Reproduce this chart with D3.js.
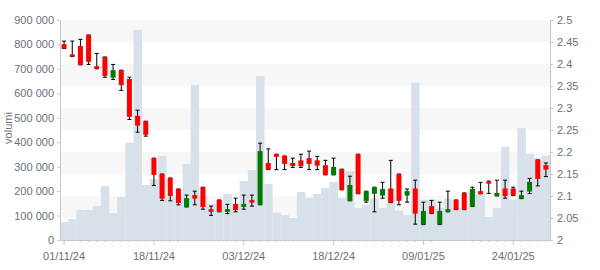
<!DOCTYPE html>
<html lang="it">
<head>
<meta charset="utf-8">
<title>Candlestick - volumi</title>
<script src="https://cdnjs.cloudflare.com/ajax/libs/d3/7.8.5/d3.min.js"></script>
<style>
	body { margin: 0; background: #fff; }
	svg text { font-family: Arial, "Liberation Sans", sans-serif; font-size: 11px; fill: #68707a; }
	.axis path, .axis line { stroke: #c4c8cc; }
</style>
</head>
<body>
<div id="chart"></div>
<script>
	// trading days (Borsa Italiana), nov 2024 - jan 2025
	var dates = [
		"01/11/24","04/11/24","05/11/24","06/11/24","07/11/24","08/11/24","11/11/24","12/11/24","13/11/24","14/11/24",
		"15/11/24","18/11/24","19/11/24","20/11/24","21/11/24","22/11/24","25/11/24","26/11/24","27/11/24","28/11/24",
		"29/11/24","02/12/24","03/12/24","04/12/24","05/12/24","06/12/24","09/12/24","10/12/24","11/12/24","12/12/24",
		"13/12/24","16/12/24","17/12/24","18/12/24","19/12/24","20/12/24","23/12/24","27/12/24","30/12/24","02/01/25",
		"03/01/25","06/01/25","07/01/25","08/01/25","09/01/25","10/01/25","13/01/25","14/01/25","15/01/25","16/01/25",
		"17/01/25","20/01/25","21/01/25","22/01/25","23/01/25","24/01/25","27/01/25","28/01/25","29/01/25","30/01/25"
	];
	var labelDates = ["01/11/24","18/11/24","03/12/24","18/12/24","09/01/25","24/01/25"];

	var open = [2.445,2.422,2.441,2.466,2.395,2.416,2.369,2.386,2.366,2.282,
		2.270,2.186,2.150,2.141,2.116,2.075,2.102,2.120,2.070,2.091,
		2.064,2.082,2.075,2.091,2.080,2.175,2.195,2.191,2.175,2.181,
		2.186,2.181,2.170,2.148,2.161,2.089,2.195,2.089,2.105,2.101,
		2.117,2.150,2.101,2.117,2.035,2.077,2.035,2.064,2.091,2.107,
		2.076,2.111,2.133,2.100,2.117,2.117,2.094,2.110,2.182,2.170];
	var high = [2.452,2.452,2.456,2.466,2.424,2.416,2.399,2.386,2.370,2.295,
		2.270,2.186,2.150,2.141,2.116,2.102,2.111,2.120,2.077,2.091,
		2.081,2.095,2.102,2.102,2.220,2.207,2.195,2.191,2.186,2.195,
		2.202,2.190,2.181,2.186,2.161,2.145,2.195,2.111,2.120,2.131,
		2.181,2.150,2.116,2.136,2.086,2.090,2.086,2.111,2.091,2.107,
		2.120,2.131,2.134,2.136,2.136,2.120,2.111,2.140,2.182,2.175];
	var low = [2.435,2.417,2.398,2.399,2.389,2.370,2.365,2.340,2.274,2.245,
		2.236,2.124,2.090,2.089,2.080,2.075,2.080,2.070,2.056,2.064,
		2.060,2.064,2.070,2.077,2.080,2.160,2.160,2.160,2.165,2.165,
		2.160,2.160,2.148,2.148,2.114,2.089,2.105,2.086,2.064,2.095,
		2.085,2.080,2.086,2.036,2.035,2.060,2.035,2.064,2.069,2.069,
		2.076,2.105,2.106,2.100,2.095,2.101,2.094,2.106,2.123,2.144];
	var close = [2.435,2.417,2.398,2.405,2.389,2.373,2.386,2.352,2.280,2.260,
		2.239,2.148,2.094,2.100,2.084,2.095,2.094,2.075,2.064,2.064,
		2.070,2.068,2.082,2.085,2.202,2.160,2.189,2.173,2.168,2.168,
		2.173,2.169,2.148,2.166,2.114,2.125,2.105,2.111,2.120,2.116,
		2.085,2.089,2.111,2.060,2.066,2.060,2.066,2.070,2.069,2.069,
		2.116,2.105,2.128,2.107,2.100,2.101,2.102,2.132,2.139,2.160];
	var volume = [74000,86000,123000,123000,139000,221000,110000,176000,398000,859000,
		225000,250000,344000,177000,177000,311000,634000,180000,147000,147000,
		188000,150000,241000,286000,671000,230000,112000,102000,90000,196000,
		172000,188000,213000,237000,172000,282000,131000,143000,168000,131000,
		211000,120000,102000,644000,164000,164000,131000,168000,133000,123000,
		200000,188000,94000,131000,381000,165000,458000,352000,335000,345000];

	var volTicks = d3.range(0, 900001, 100000);
	var priceTicks = d3.range(0, 11).map(function(k) { return +(2 + k * 0.05).toFixed(2); });

	var width = 600,
		height = 270;
	var plotLeft = 60, plotRight = 550, plotTop = 20, plotBottom = 240;

	var svg = d3.select("#chart").append("svg")
		.attr("width", width)
		.attr("height", height);

	var x = d3.scaleBand().domain(dates).range([plotLeft, plotRight]).padding(0);
	var yVol = d3.scaleLinear().domain([0, 900000]).range([plotBottom, plotTop]);
	var yPrice = d3.scaleLinear().domain([2, 2.5]).range([plotBottom, plotTop]);

	// alternating bands on the price grid
	var bands = priceTicks.slice(0, -1).map(function(p, k) { return [p, priceTicks[k + 1]]; });
	svg.append("g").selectAll("rect")
		.data(bands)
		.enter().append("rect")
		.attr("x", plotLeft)
		.attr("width", plotRight - plotLeft)
		.attr("y", function(d) { return yPrice(d[1]); })
		.attr("height", function(d) { return yPrice(d[0]) - yPrice(d[1]); })
		.attr("fill", function(d, k) { return (bands.length - 1 - k) % 2 == 0 ? "#f7f7f7" : "#ffffff"; });

	// volume
	svg.append("g").selectAll("rect")
		.data(dates)
		.enter().append("rect")
		.attr("x", function(d) { return x(d); })
		.attr("width", x.bandwidth() + 0.3)
		.attr("y", function(d, k) { return yVol(volume[k]); })
		.attr("height", function(d, k) { return plotBottom - yVol(volume[k]); })
		.attr("fill", "#d8e1ea");

	// axes
	var fr = d3.formatLocale({ decimal: ".", thousands: " ", grouping: [3], currency: ["", ""] });
	svg.append("g")
		.attr("class", "axis")
		.attr("transform", "translate(" + plotLeft + ",0)")
		.call(d3.axisLeft(yVol).tickValues(volTicks).tickSize(3).tickPadding(3).tickSizeOuter(0).tickFormat(fr.format(",d")));

	svg.append("g")
		.attr("class", "axis")
		.attr("transform", "translate(" + plotRight + ",0)")
		.call(d3.axisRight(yPrice).tickValues(priceTicks).tickSize(3).tickPadding(4).tickSizeOuter(0).tickFormat(function(d) { return String(d); }));

	svg.append("g")
		.attr("class", "axis")
		.attr("transform", "translate(0," + plotBottom + ")")
		.call(d3.axisBottom(x).tickValues(dates).tickSize(2).tickSizeOuter(0).tickFormat(""));

	var xLab = svg.append("g")
		.attr("class", "axis")
		.attr("transform", "translate(0," + plotBottom + ")")
		.call(d3.axisBottom(x).tickValues(labelDates).tickSize(5).tickPadding(7).tickSizeOuter(0));
	xLab.select(".domain").remove();

	svg.selectAll(".axis text").attr("fill", "#68707a").style("font-size", "11px");

	svg.append("text")
		.attr("transform", "translate(12,128) rotate(-90)")
		.attr("text-anchor", "middle")
		.text("volumi");

	// candles
	var cw = 5, capW = 4;
	var candle = svg.append("g").selectAll("g")
		.data(dates)
		.enter().append("g")
		.attr("transform", function(d) { return "translate(" + (x(d) + x.bandwidth() / 2) + ",0)"; });

	candle.append("line")
		.attr("y1", function(d, k) { return yPrice(high[k]); })
		.attr("y2", function(d, k) { return yPrice(low[k]); })
		.attr("stroke", "#000")
		.attr("stroke-width", 1);
	candle.append("line")
		.attr("x1", -capW / 2).attr("x2", capW / 2)
		.attr("y1", function(d, k) { return yPrice(high[k]); })
		.attr("y2", function(d, k) { return yPrice(high[k]); })
		.attr("stroke", "#000");
	candle.append("line")
		.attr("x1", -capW / 2).attr("x2", capW / 2)
		.attr("y1", function(d, k) { return yPrice(low[k]); })
		.attr("y2", function(d, k) { return yPrice(low[k]); })
		.attr("stroke", "#000");
	candle.append("rect")
		.attr("x", -cw / 2)
		.attr("width", cw)
		.attr("y", function(d, k) { return yPrice(Math.max(open[k], close[k])); })
		.attr("height", function(d, k) { return Math.max(1, Math.abs(yPrice(open[k]) - yPrice(close[k]))); })
		.attr("fill", function(d, k) { return close[k] >= open[k] ? "#007a00" : "#ff0000"; });
</script>
</body>
</html>
